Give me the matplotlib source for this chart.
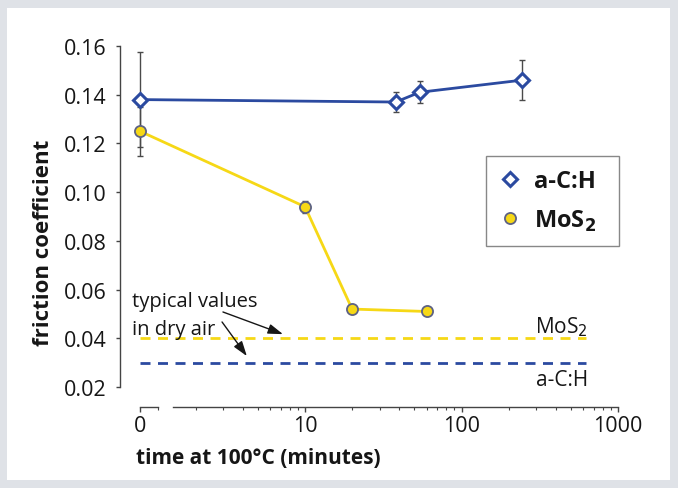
import matplotlib
matplotlib.use("Agg")
import matplotlib.pyplot as plt
import matplotlib.transforms as mtransforms
from matplotlib.patches import Rectangle
from matplotlib.lines import Line2D

plt.rcParams['font.family'] = ['Open Sans', 'DejaVu Sans']

# ---- data ----
ach_time = [0, 38, 54, 245]
ach_mu = [0.138, 0.137, 0.141, 0.146]
ach_err = [0.0196, 0.0043, 0.0046, 0.0082]

mos2_time = [0, 10, 20, 60]
mos2_mu = [0.125, 0.094, 0.052, 0.051]
mos2_err = [0.010, 0.0025, 0.0, 0.0]

dry_air_ach = 0.030
dry_air_mos2 = 0.040
dry_air_span = [0, 620]

y_ticks = [0.02, 0.04, 0.06, 0.08, 0.10, 0.12, 0.14, 0.16]
x_major = [10, 100, 1000]
x_major_labels = ['10', '100', '1000']
x_zero_label = '0'

# ---- layout / style ----
ZERO_POS = 0.883          # where "time 0" is drawn on the log axis
SEG0 = (0.876, 1.15)      # short axis segment around 0
MAIN_START = 1.434        # start of the main log axis segment
BLUE = '#2b4aa0'
YELLOW = '#f6d816'
ERR = '#4a4a4a'
TXT = '#161616'

def xpos(t):
    return [ZERO_POS if v == 0 else v for v in t]

W, H, DPI = 678, 489, 100
fig = plt.figure(figsize=(W / DPI, H / DPI), dpi=DPI)
fig.patch.set_facecolor('#dfe2e7')
bg = Rectangle((7 / W, 1 - 481 / H), (670 - 7) / W, (481 - 9) / H,
               transform=fig.transFigure, facecolor='white',
               edgecolor='none', zorder=-10)
fig.patches.append(bg)

ax = fig.add_axes([120 / W, 1 - 388 / H, 520 / W, 341 / H])
ax.set_facecolor('none')
ax.set_xscale('log')
ax.set_xlim(0.6574, 1382)
ax.set_ylim(0.02, 0.16)

# error bars
ax.errorbar(xpos(ach_time), ach_mu, yerr=ach_err, fmt='none', ecolor=ERR,
            elinewidth=1.0, capsize=2.5, capthick=1.0, zorder=2)
ax.errorbar(xpos(mos2_time), mos2_mu, yerr=mos2_err, fmt='none', ecolor=ERR,
            elinewidth=1.0, capsize=2.5, capthick=1.0, zorder=2)

# series
ax.plot(xpos(mos2_time), mos2_mu, '-', color=YELLOW, lw=2.0, zorder=3)
ax.plot(xpos(ach_time), ach_mu, '-', color=BLUE, lw=2.0, zorder=3)
ax.plot(xpos(mos2_time), mos2_mu, 'o', ms=8, mfc=YELLOW, mec='#5d6283',
        mew=1.3, zorder=4, ls='none')
ax.plot(xpos(ach_time), ach_mu, 'D', ms=7, mfc='white', mec=BLUE,
        mew=2.2, zorder=4, ls='none')

# dry air reference lines
ax.plot(xpos(dry_air_span), [dry_air_mos2] * 2, color=YELLOW, lw=2.0,
        dashes=(3.6, 2.7), zorder=2)
ax.plot(xpos(dry_air_span), [dry_air_ach] * 2, color=BLUE, lw=2.0,
        dashes=(3.6, 2.7), zorder=2)
ax.text(645, 0.0403, 'MoS$_2$', ha='right', va='bottom', fontsize=15,
        color=TXT)
ax.text(645, 0.0274, 'a-C:H', ha='right', va='top', fontsize=15,
        color=TXT)

# annotation
ax.text(0.785, 0.0532, 'typical values', ha='left', va='baseline',
        fontsize=14.5, color=TXT)
ax.text(0.785, 0.0418, 'in dry air', ha='left', va='baseline',
        fontsize=14.5, color=TXT)
ax.annotate('', xy=(7.23, 0.0417), xytext=(2.99, 0.0508),
            arrowprops=dict(arrowstyle='-|>,head_length=0.9,head_width=0.3',
                            color=TXT, lw=1.0,
                            mutation_scale=10, shrinkA=0, shrinkB=0))
ax.annotate('', xy=(4.25, 0.0327), xytext=(2.95, 0.0467),
            arrowprops=dict(arrowstyle='-|>,head_length=0.9,head_width=0.3',
                            color=TXT, lw=1.0,
                            mutation_scale=10, shrinkA=0, shrinkB=0))

# axes styling
for s in ['top', 'right']:
    ax.spines[s].set_visible(False)
ax.spines['left'].set_color('#444444')
ax.spines['left'].set_linewidth(1.0)
ax.spines['bottom'].set_color('#444444')
ax.spines['bottom'].set_linewidth(1.0)
ax.spines['bottom'].set_position(('outward', 20 * 72 / DPI))
ax.spines['bottom'].set_bounds(MAIN_START, 1000)

ax.set_yticks(y_ticks)
ax.set_yticklabels(['%.2f' % v for v in y_ticks])
ax.tick_params(axis='y', direction='out', length=3, width=1.0, color='#444444',
               labelsize=15.5, pad=6.5, labelcolor=TXT)

ax.set_xticks([ZERO_POS] + x_major)
ax.set_xticklabels([x_zero_label] + x_major_labels)
minor = [SEG0[1]]
for dec in [1, 10, 100]:
    for m in range(2, 10):
        if dec * m > MAIN_START:
            minor.append(dec * m)
ax.set_xticks(minor, minor=True)
ax.set_xticklabels([''] * len(minor), minor=True)
ax.tick_params(axis='x', which='major', direction='out', length=3.5, width=1.0,
               color='#444444', labelsize=15.5, pad=2, labelcolor=TXT)
ax.tick_params(axis='x', which='minor', direction='out', length=2.5, width=0.8,
               color='#444444')

# short segment of x axis near 0
off = mtransforms.ScaledTranslation(0, -20 / DPI, fig.dpi_scale_trans)
seg = Line2D(list(SEG0), [0, 0], transform=ax.get_xaxis_transform() + off,
             color='#444444', lw=1.0, clip_on=False)
ax.add_line(seg)

ax.set_xlabel('time at 100°C (minutes)', fontsize=15, fontweight='bold',
              ha='left', va='center', color=TXT)
ax.xaxis.set_label_coords((136 - 120) / 520, -(459 - 388) / 341)
ax.set_ylabel('friction coefficient', fontsize=16, fontweight='bold',
              va='center', color=TXT)
ax.yaxis.set_label_coords((44 - 120) / 520, (388 - 243) / 341)

# legend
handles = [
    Line2D([], [], marker='D', ls='none', ms=7, mfc='white', mec=BLUE, mew=2.2),
    Line2D([], [], marker='o', ls='none', ms=8, mfc=YELLOW, mec='#5d6283', mew=1.3),
]
leg_x0, leg_x1 = (486 - 120) / 520, (619 - 120) / 520
leg = ax.legend(handles, ['a-C:H', r'MoS$_\mathbf{2}$'], loc='upper left',
                bbox_to_anchor=(leg_x0, (388 - 157) / 341, leg_x1 - leg_x0, 0.0),
                mode='expand',
                frameon=True, fancybox=False, edgecolor='#888888',
                framealpha=1, borderpad=0.55, handletextpad=0.58,
                labelspacing=0.62, handlelength=0.9, borderaxespad=0,
                prop={'size': 17, 'weight': 'bold'})
leg.get_frame().set_linewidth(1.0)
for t in leg.get_texts():
    t.set_color(TXT)

fig.savefig('out.png', dpi=DPI, facecolor=fig.get_facecolor())
